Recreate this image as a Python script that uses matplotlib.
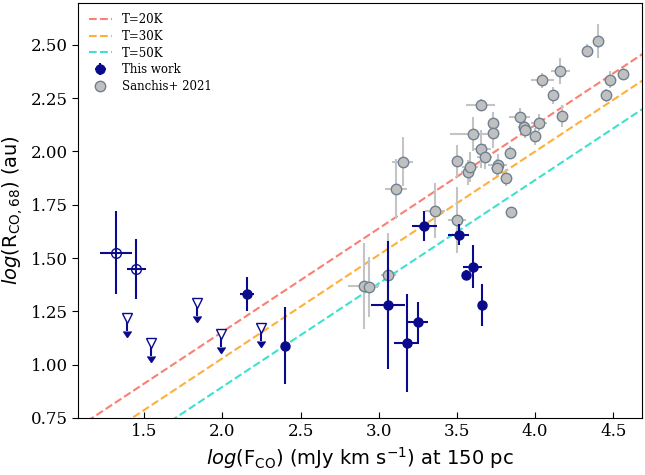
import numpy as np
import matplotlib
matplotlib.use("Agg")
import matplotlib.pyplot as plt

# ---- model lines: log R = slope * log F + offset ----
temps = ["T=20K", "T=30K", "T=50K"]
line_slope = [0.485, 0.485, 0.485]
line_offset = [0.184, 0.060, -0.074]
line_colors = ["salmon", "#ffb03b", "turquoise"]

# ---- this work: detections ----
tw_x = [2.16, 2.40, 3.06, 3.18, 3.25, 3.29, 3.51, 3.56, 3.60, 3.66]
tw_y = [1.33, 1.09, 1.28, 1.10, 1.20, 1.65, 1.61, 1.42, 1.46, 1.28]
tw_xerr = [0.045, 0.0, 0.11, 0.08, 0.065, 0.08, 0.065, 0.02, 0.06, 0.02]
tw_yerr = [0.08, 0.18, 0.30, 0.23, 0.095, 0.07, 0.05, 0.025, 0.10, 0.10]

# ---- this work: tentative (open circles) ----
tent_x = [1.32, 1.45]
tent_y = [1.525, 1.45]
tent_xerr = [0.10, 0.06]
tent_yerr = [0.195, 0.14]

# ---- this work: upper limits ----
ul_x = [1.39, 1.545, 1.84, 1.99, 2.25]
ul_y = [1.22, 1.10, 1.29, 1.145, 1.17]

# ---- Sanchis+ 2021 ----
s_x = [2.904, 2.938, 3.062, 3.113, 3.152, 3.357, 3.50, 3.50, 3.568, 3.583,
       3.603, 3.652, 3.656, 3.677, 3.733, 3.729, 3.76, 3.756, 3.812, 3.848,
       3.838, 3.90, 3.931, 3.938, 3.998, 4.024, 4.047, 4.117, 4.162, 4.173,
       4.333, 4.40, 4.451, 4.479, 4.564]
s_y = [1.369, 1.366, 1.419, 1.823, 1.952, 1.722, 1.679, 1.956, 1.902, 1.929,
       2.081, 2.218, 2.012, 1.976, 2.133, 2.088, 1.937, 1.924, 1.877, 1.716,
       1.995, 2.163, 2.117, 2.101, 2.072, 2.135, 2.334, 2.264, 2.378, 2.167,
       2.473, 2.517, 2.264, 2.336, 2.363]
s_xerr = [0.10, 0.06, 0.05, 0.07, 0.07, 0.064, 0.06, 0.03, 0.04, 0.05,
          0.145, 0.093, 0.06, 0.05, 0.03, 0.03, 0.06, 0.04, 0.03, 0.0,
          0.03, 0.07, 0.04, 0.04, 0.03, 0.05, 0.073, 0.03, 0.06, 0.03,
          0.02, 0.03, 0.02, 0.03, 0.02]
s_yerr = [0.20, 0.14, 0.20, 0.14, 0.115, 0.13, 0.155, 0.075, 0.06, 0.07,
          0.08, 0.03, 0.09, 0.06, 0.05, 0.07, 0.05, 0.04, 0.04, 0.0,
          0.03, 0.04, 0.03, 0.04, 0.04, 0.04, 0.035, 0.04, 0.06, 0.05,
          0.03, 0.08, 0.03, 0.04, 0.03]

navy = "#0a0a8c"
xlim = (1.077, 4.686)
ylim = (0.75, 2.697)

fig = plt.figure(figsize=(6.45, 4.75), dpi=100)
ax = fig.add_axes([0.121, 0.12, 0.875, 0.874])

handles = []
xx = np.array(xlim)
for lab, m, c, col in zip(temps, line_slope, line_offset, line_colors):
    h, = ax.plot(xx, m * xx + c, ls="--", color=col, lw=1.5, label=lab, zorder=1)
    handles.append(h)

# Sanchis error bars + markers
ax.errorbar(s_x, s_y, xerr=s_xerr, yerr=s_yerr, fmt="none",
            ecolor="#c4c4c4", elinewidth=1.5, zorder=2)
h_s, = ax.plot(s_x, s_y, "o", ms=7.5, mfc="#c0c0c0", mec="slategray",
               mew=1.0, ls="none", label="Sanchis+ 2021", zorder=3)

# this work
h_tw = ax.errorbar(tw_x, tw_y, xerr=tw_xerr, yerr=tw_yerr, fmt="o", ms=6.5,
                   color=navy, elinewidth=1.5, label="This work", zorder=4)
ax.errorbar(tent_x, tent_y, xerr=tent_xerr, yerr=tent_yerr, fmt="o", ms=7,
            color=navy, mfc="none", mec=navy, elinewidth=1.5, zorder=4)
ax.errorbar(ul_x, ul_y, yerr=0.06, uplims=True, fmt="v", ms=7, color=navy,
            mfc="white", mec=navy, elinewidth=1.5, zorder=4)

handles += [h_tw, h_s]
ax.legend(handles=handles, loc="upper left", frameon=False, labelspacing=0.3,
          prop={"family": "DejaVu Serif", "size": 8.5})

ax.set_xlim(*xlim)
ax.set_ylim(*ylim)
ax.set_xticks([1.5, 2.0, 2.5, 3.0, 3.5, 4.0, 4.5])
ax.set_yticks([0.75, 1.0, 1.25, 1.5, 1.75, 2.0, 2.25, 2.5])
ax.set_yticklabels(["%.2f" % v for v in ax.get_yticks()])
ax.tick_params(axis="x", direction="in", length=4)
ax.tick_params(axis="y", direction="out", length=4)
for lbl in ax.get_xticklabels() + ax.get_yticklabels():
    lbl.set_fontfamily("DejaVu Serif")
    lbl.set_fontsize(12)

ax.set_xlabel(r"$log$(F$_{\rm CO}$) (mJy km s$^{-1}$) at 150 pc", fontsize=14)
ax.set_ylabel(r"$log$(R$_{\rm CO,68}$) (au)", fontsize=14)

plt.savefig("out.png", dpi=100)
